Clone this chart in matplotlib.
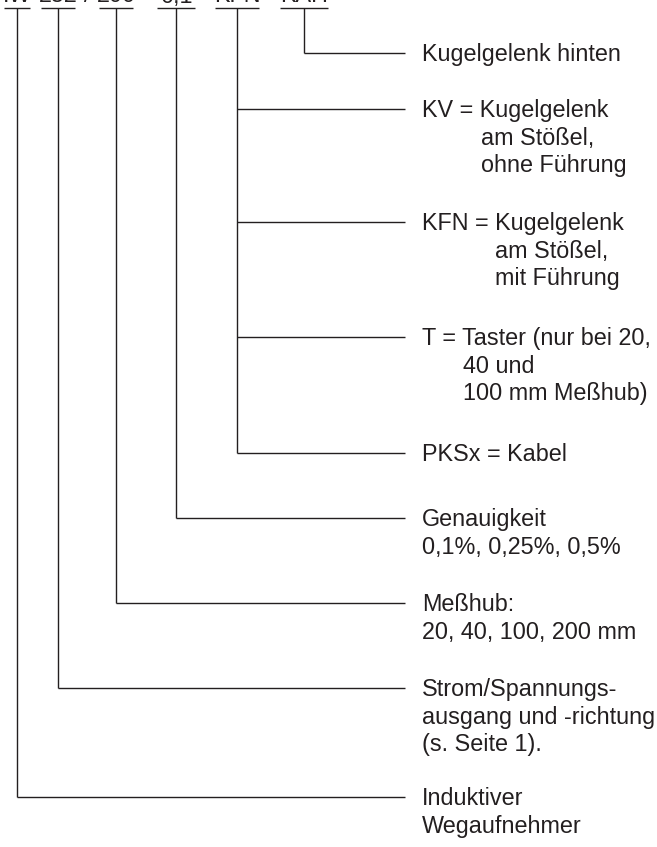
import matplotlib
matplotlib.use("Agg")
import matplotlib.pyplot as plt

# order code parts (top row, mostly cut off in the original)
codes = ["IW", "252", "200", "0,1", "KFN", "KAH"]
separators = ["", "/", "-", "-", "-"]

# which code part each explanation belongs to
label_group = [5, 4, 4, 4, 4, 3, 2, 1, 0]
label_lines = [
    ["Kugelgelenk hinten"],
    ["KV = Kugelgelenk", "am Stößel,", "ohne Führung"],
    ["KFN = Kugelgelenk", "am Stößel,", "mit Führung"],
    ["T = Taster (nur bei 20,", "40 und", "100 mm Meßhub)"],
    ["PKSx = Kabel"],
    ["Genauigkeit", "0,1%, 0,25%, 0,5%"],
    ["Meßhub:", "20, 40, 100, 200 mm"],
    ["Strom/Spannungs-", "ausgang und -richtung", "(s. Seite 1)."],
    ["Induktiver", "Wegaufnehmer"],
]

# layout (pixels)
W, H = 657, 847
code_x = [17, 58, 116, 176, 237, 304]
bar_half = [13, 17, 17, 19, 22, 24]
bar_y = 8
branch_y = [53, 109, 222, 337, 453, 518, 603, 688, 797]
indent = [0, 59, 73, 41, 0, 0, 0, 0, 0]
line_end = 405
text_x = 422
line_step = 27.5
fs = 16.8
col = "#231f20"
lw = 1.0

plt.rcParams['font.family'] = ['Liberation Sans', 'DejaVu Sans']

fig = plt.figure(figsize=(W / 100, H / 100), dpi=100)
ax = fig.add_axes([0, 0, 1, 1])
ax.set_xlim(0, W)
ax.set_ylim(H, 0)
ax.axis("off")

# top code row, bars and separators
for i, c in enumerate(codes):
    ax.text(code_x[i], 2.5, c, fontsize=fs, color=col, ha="center", va="baseline")
    ax.plot([code_x[i] - bar_half[i], code_x[i] + bar_half[i]], [bar_y, bar_y],
            color=col, lw=lw, solid_capstyle="butt")
for i, s in enumerate(separators):
    if s:
        xm = (code_x[i] + bar_half[i] + code_x[i + 1] - bar_half[i + 1]) / 2
        ax.text(xm, 2.5, s, fontsize=fs, color=col, ha="center", va="baseline")

# vertical stems down to the lowest branch of each group
for g in range(len(codes)):
    ys = [branch_y[k] for k in range(len(label_group)) if label_group[k] == g]
    ax.plot([code_x[g], code_x[g]], [bar_y, max(ys)], color=col, lw=lw,
            solid_capstyle="butt")

# branches and texts
for k, lines in enumerate(label_lines):
    y = branch_y[k]
    ax.plot([code_x[label_group[k]], line_end], [y, y], color=col, lw=lw,
            solid_capstyle="butt")
    for j, t in enumerate(lines):
        x = text_x if j == 0 else text_x + indent[k]
        ax.text(x, y + 8.4 + j * line_step, t, fontsize=fs, color=col,
                ha="left", va="baseline")

fig.savefig("out.png", dpi=100, facecolor="white")
